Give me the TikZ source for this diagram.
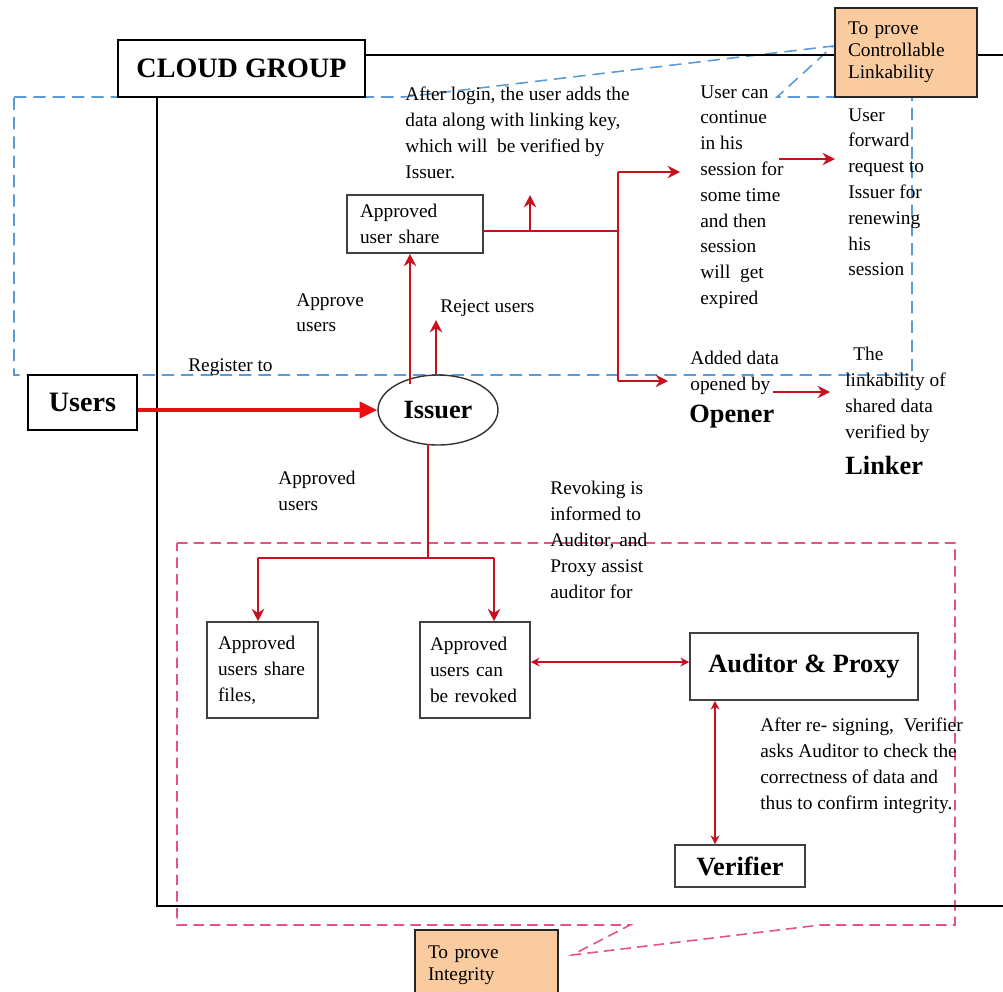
\documentclass[tikz,border=0pt]{standalone}
\usepackage{fontspec}
\setmainfont{Liberation Serif}
\usetikzlibrary{arrows.meta,shapes.geometric,calc}
\definecolor{dred}{HTML}{C8101E}
\definecolor{bred}{HTML}{E81010}
\definecolor{cblue}{HTML}{5B9BD5}
\definecolor{cpink}{HTML}{E8508A}
\definecolor{peach}{HTML}{FBCBA0}
\begin{document}
\begin{tikzpicture}[x=0.02cm,y=-0.02cm,
  txt/.style={anchor=north west,inner sep=0pt,align=left,font=\fontsize{11}{14.7}\selectfont},
  big/.style={font=\fontsize{15}{17}\selectfont\bfseries},
  box/.style={draw=black!75,line width=0.9pt,fill=white,inner ysep=0pt,align=left,font=\fontsize{11}{14.7}\selectfont},
  obox/.style={draw=black!85,line width=0.9pt,fill=peach,inner ysep=0pt,inner xsep=0.26cm,align=left,font=\fontsize{11}{12.5}\selectfont},
  rline/.style={draw=dred,line width=1.3pt},
  rarrow/.style={draw=dred,line width=1.3pt,-{Stealth[length=7pt,width=7pt]}},
  darrow/.style={draw=dred,line width=1.3pt,{Stealth[length=5pt,width=5pt]}-{Stealth[length=5pt,width=5pt]}},
  bdash/.style={draw=cblue,line width=0.9pt,dash pattern=on 7pt off 4pt},
  pdash/.style={draw=cpink,line width=0.9pt,dash pattern=on 6pt off 3.5pt}]
\useasboundingbox (0,0) rectangle (1003,991);
% callouts
\draw[bdash] (14,97) -- (404,97) -- (833,46) -- (777,97) -- (912,97) -- (912,375) -- (14,375) -- cycle;
\draw[pdash] (177,543) -- (955,543) -- (955,925) -- (820,925) -- (572,955) -- (630,925) -- (177,925) -- cycle;
% cloud group frame
\draw[line width=0.9pt] (1003,55) -- (157,55) -- (157,906) -- (1003,906);
\node[draw=black,line width=0.9pt,fill=white,minimum width=4.94cm,minimum height=1.14cm,inner sep=0pt,font=\fontsize{16}{18}\selectfont\bfseries] (cloud) at (241.5,68.5) {CLOUD GROUP};
\node[obox,minimum width=2.84cm,minimum height=1.78cm,text width=2.32cm] (olink) at (906,52.5) {To prove\\Controllable\\Linkability};
\node[obox,minimum width=2.86cm,minimum height=1.4cm,text width=2.34cm] (ointeg) at (486.5,965) {To prove\\Integrity};
% main nodes
\node[draw=black,line width=0.9pt,minimum width=2.18cm,minimum height=1.1cm,inner sep=0pt,font=\fontsize{16}{18}\selectfont\bfseries] (users) at (82.5,402.5) {Users};
\node[ellipse,draw=black!80,line width=0.8pt,minimum width=2.4cm,minimum height=1.4cm,inner sep=0pt,big] (iss) at (438,410) {Issuer};
\node[box,minimum width=2.72cm,minimum height=1.16cm,inner xsep=0.26cm,text width=2.2cm] (share) at (415,224) {Approved\\user share};
\node[box,minimum width=2.22cm,minimum height=1.92cm,inner xsep=0.22cm,text width=1.78cm] (box1) at (262.5,670) {Approved\\users share\\files,};
\node[box,minimum width=2.2cm,minimum height=1.92cm,inner xsep=0.2cm,text width=1.8cm] (box2) at (475,670) {Approved\\users can\\be revoked};
\node[draw=black!75,line width=0.9pt,minimum width=4.56cm,minimum height=1.34cm,inner sep=0pt,big] (aud) at (804,666.5) {Auditor \& Proxy};
\node[draw=black!75,line width=0.9pt,minimum width=2.6cm,minimum height=0.84cm,inner sep=0pt,big] (ver) at (740,866) {Verifier};
% texts
\node[txt] (tlogin) at (405,87) {After login, the user adds the\\data along with linking key,\\which will\ \ be verified by\\Issuer.};
\node[txt] (tcont) at (700,85) {User can\\continue\\in his\\session for\\some time\\and then\\session\\will\ \ get\\expired};
\node[txt] (tfwd) at (848,108) {User\\forward\\request to\\Issuer for\\renewing\\his\\session};
\node[txt] (tadded) at (690,351) {Added data\\opened by};
\node[txt,big,anchor=west] (opener) at (689,417) {Opener};
\node[txt] (tlink) at (845,347) {\ \,The\\linkability of\\shared data\\verified by};
\node[txt,big,anchor=west] (linker) at (845,465) {Linker};
\node[txt] (tappr) at (296,293) {Approve\\users};
\node[txt] (trej) at (440,299) {Reject users};
\node[txt] (treg) at (188,358) {Register to};
\node[txt] (tappd) at (278,471) {Approved\\users};
\node[txt] (trev) at (550,481) {Revoking is\\informed to\\Auditor, and\\Proxy assist\\auditor for};
\node[txt] (tresign) at (760,718) {After re- signing,\ \ Verifier\\asks Auditor to check the\\correctness of data and\\thus to confirm integrity.};
% coordinates
\coordinate (a1) at (410,384);
\coordinate (j1) at (618,231);
\coordinate (jt) at (618,172);
\coordinate (jb) at (618,381);
\coordinate (up0) at (530,231);
\coordinate (up1) at (530,195);
\coordinate (ct) at (680,172);
\coordinate (cb) at (668,381);
\coordinate (f0) at (779,159);
\coordinate (f1) at (835,159);
\coordinate (o0) at (773,392);
\coordinate (o1) at (830,392);
\coordinate (rj) at (436,320);
\coordinate (d0) at (428,444);
\coordinate (d1) at (428,558);
\coordinate (h1) at (258,558);
\coordinate (h2) at (494,558);
\coordinate (m) at (610,662);
\coordinate (v) at (715,700);
% connectors
\draw[draw=bred,line width=2.4pt,-{Triangle[length=10pt,width=9pt]}] (users.east |- iss) -- (iss.west);
\draw[rarrow] (a1) -- (a1 |- share.south);
\draw[rarrow] (iss.north -| rj) -- (rj);
\draw[rline] (share.east |- j1) -- (j1);
\draw[rarrow] (up0) -- (up1);
\draw[rline] (jt) -- (jb);
\draw[rarrow] (jt) -- (ct);
\draw[rarrow] (jb) -- (cb);
\draw[rarrow] (f0) -- (f1);
\draw[rarrow] (o0) -- (o1);
\draw[rline] (d0) -- (d1);
\draw[rline] (h1) -- (h2);
\draw[rarrow] (h1) -- (h1 |- box1.north);
\draw[rarrow] (h2) -- (h2 |- box2.north);
\draw[darrow] (box2.east |- m) -- (aud.west |- m);
\draw[darrow] (aud.south -| v) -- (ver.north -| v);
\end{tikzpicture}
\end{document}
